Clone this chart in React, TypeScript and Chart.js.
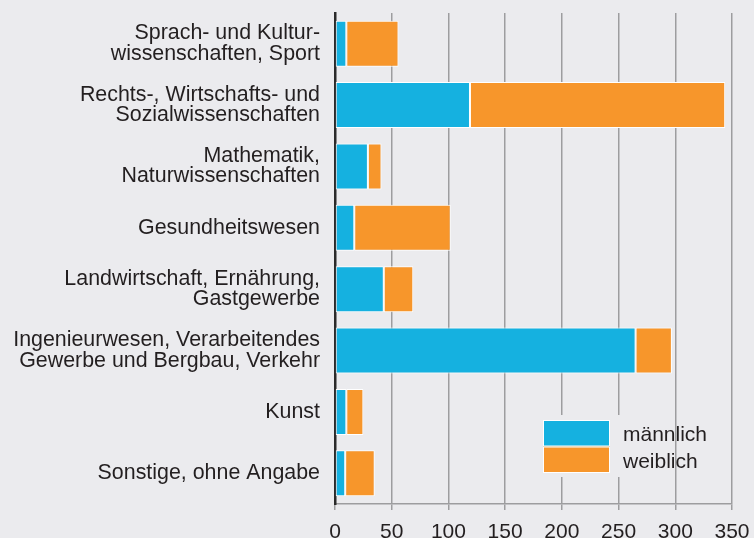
import React, { useEffect, useRef } from "react";
import { Chart, registerables } from "chart.js";

Chart.register(...registerables);

const categories: string[][] = [
  ["Sprach- und Kultur-", "wissenschaften, Sport"],
  ["Rechts-, Wirtschafts- und", "Sozialwissenschaften"],
  ["Mathematik,", "Naturwissenschaften"],
  ["Gesundheitswesen"],
  ["Landwirtschaft, Ernährung,", "Gastgewerbe"],
  ["Ingenieurwesen, Verarbeitendes", "Gewerbe und Bergbau, Verkehr"],
  ["Kunst"],
  ["Sonstige, ohne Angabe"],
];

const maennlich: number[] = [10, 119, 29, 17, 43, 265, 10, 9];
const weiblich: number[] = [46, 225, 12, 85, 26, 32, 15, 26];

const seriesNames = ["männlich", "weiblich"];
const xTicks: number[] = [0, 50, 100, 150, 200, 250, 300, 350];

const BG = "#ebebee";
const BLUE = "#15b1e0";
const ORANGE = "#f7962b";
const TEXT = "#231f20";
const FONT = "'Liberation Sans', Arial, Helvetica, sans-serif";

const legendPlugin = {
  id: "customLegend",
  afterDraw(chart: any) {
    const ctx = chart.ctx;
    const x0 = 543;
    const y0 = 420;
    const w = 67;
    const h = 26.5;
    ctx.save();
    ctx.fillStyle = BG;
    ctx.fillRect(537, 415, 118, 62);
    const colors = [BLUE, ORANGE];
    colors.forEach((c, i) => {
      const y = y0 + i * h;
      ctx.fillStyle = c;
      ctx.fillRect(x0, y, w, h);
      ctx.strokeStyle = "#ffffff";
      ctx.lineWidth = 1;
      ctx.strokeRect(x0 + 0.5, y + 0.5, w - 1, h - 1);
      ctx.fillStyle = TEXT;
      ctx.font = `21px ${FONT}`;
      ctx.textBaseline = "alphabetic";
      ctx.textAlign = "left";
      ctx.fillText(seriesNames[i], 623, 441 + i * 27);
    });
    ctx.restore();
  },
};

export default function App() {
  const ref = useRef<HTMLCanvasElement | null>(null);

  useEffect(() => {
    document.body.style.margin = "0";
    document.body.style.background = BG;
    if (!ref.current) return;
    const chart = new Chart(ref.current, {
      type: "bar",
      data: {
        labels: categories,
        datasets: [
          {
            label: seriesNames[0],
            data: maennlich,
            backgroundColor: BLUE,
            borderColor: "#ffffff",
            borderWidth: 1,
            borderSkipped: false,
            barPercentage: 0.75,
            categoryPercentage: 1,
          },
          {
            label: seriesNames[1],
            data: weiblich,
            backgroundColor: ORANGE,
            borderColor: "#ffffff",
            borderWidth: 1,
            borderSkipped: false,
            barPercentage: 0.75,
            categoryPercentage: 1,
          },
        ],
      },
      options: {
        indexAxis: "y",
        animation: false,
        responsive: false,
        maintainAspectRatio: false,
        layout: { padding: { top: 13, right: 22, left: 0, bottom: 0 } },
        plugins: {
          legend: { display: false },
          tooltip: { enabled: false },
        },
        scales: {
          x: {
            stacked: true,
            min: 0,
            max: 350,
            afterBuildTicks: (scale: any) => {
              scale.ticks = xTicks.map((v) => ({ value: v }));
            },
            afterFit: (scale: any) => {
              scale.height = 34;
              scale.paddingLeft = 0;
              scale.paddingRight = 0;
            },
            grid: {
              color: (c: any) => (c.tick && c.tick.value === 0 ? "rgba(0,0,0,0)" : "#9d9d9f"),
              lineWidth: 1.5,
              drawTicks: true,
              tickLength: 6,
              tickColor: "#9d9d9f",
            },
            border: { display: true, color: "#9d9d9f", width: 1.5 },
            ticks: {
              color: TEXT,
              font: { family: FONT, size: 21 },
              padding: 10,
              maxRotation: 0,
              autoSkip: false,
            },
          },
          y: {
            stacked: true,
            afterFit: (scale: any) => {
              scale.width = 335;
              scale.paddingTop = 0;
              scale.paddingBottom = 0;
            },
            grid: { display: false, drawTicks: false },
            border: { display: true, color: "#2a2a2a", width: 2.5 },
            ticks: {
              color: TEXT,
              font: { family: FONT, size: 21.4, lineHeight: 0.95 },
              padding: 15,
              crossAlign: "near",
            },
          },
        },
      },
      plugins: [legendPlugin],
    });
    return () => chart.destroy();
  }, []);

  return (
    <div style={{ position: "absolute", left: 0, top: 0, width: 754, height: 538, background: BG }}>
      <canvas ref={ref} width={754} height={538} style={{ width: 754, height: 538 }} />
    </div>
  );
}
